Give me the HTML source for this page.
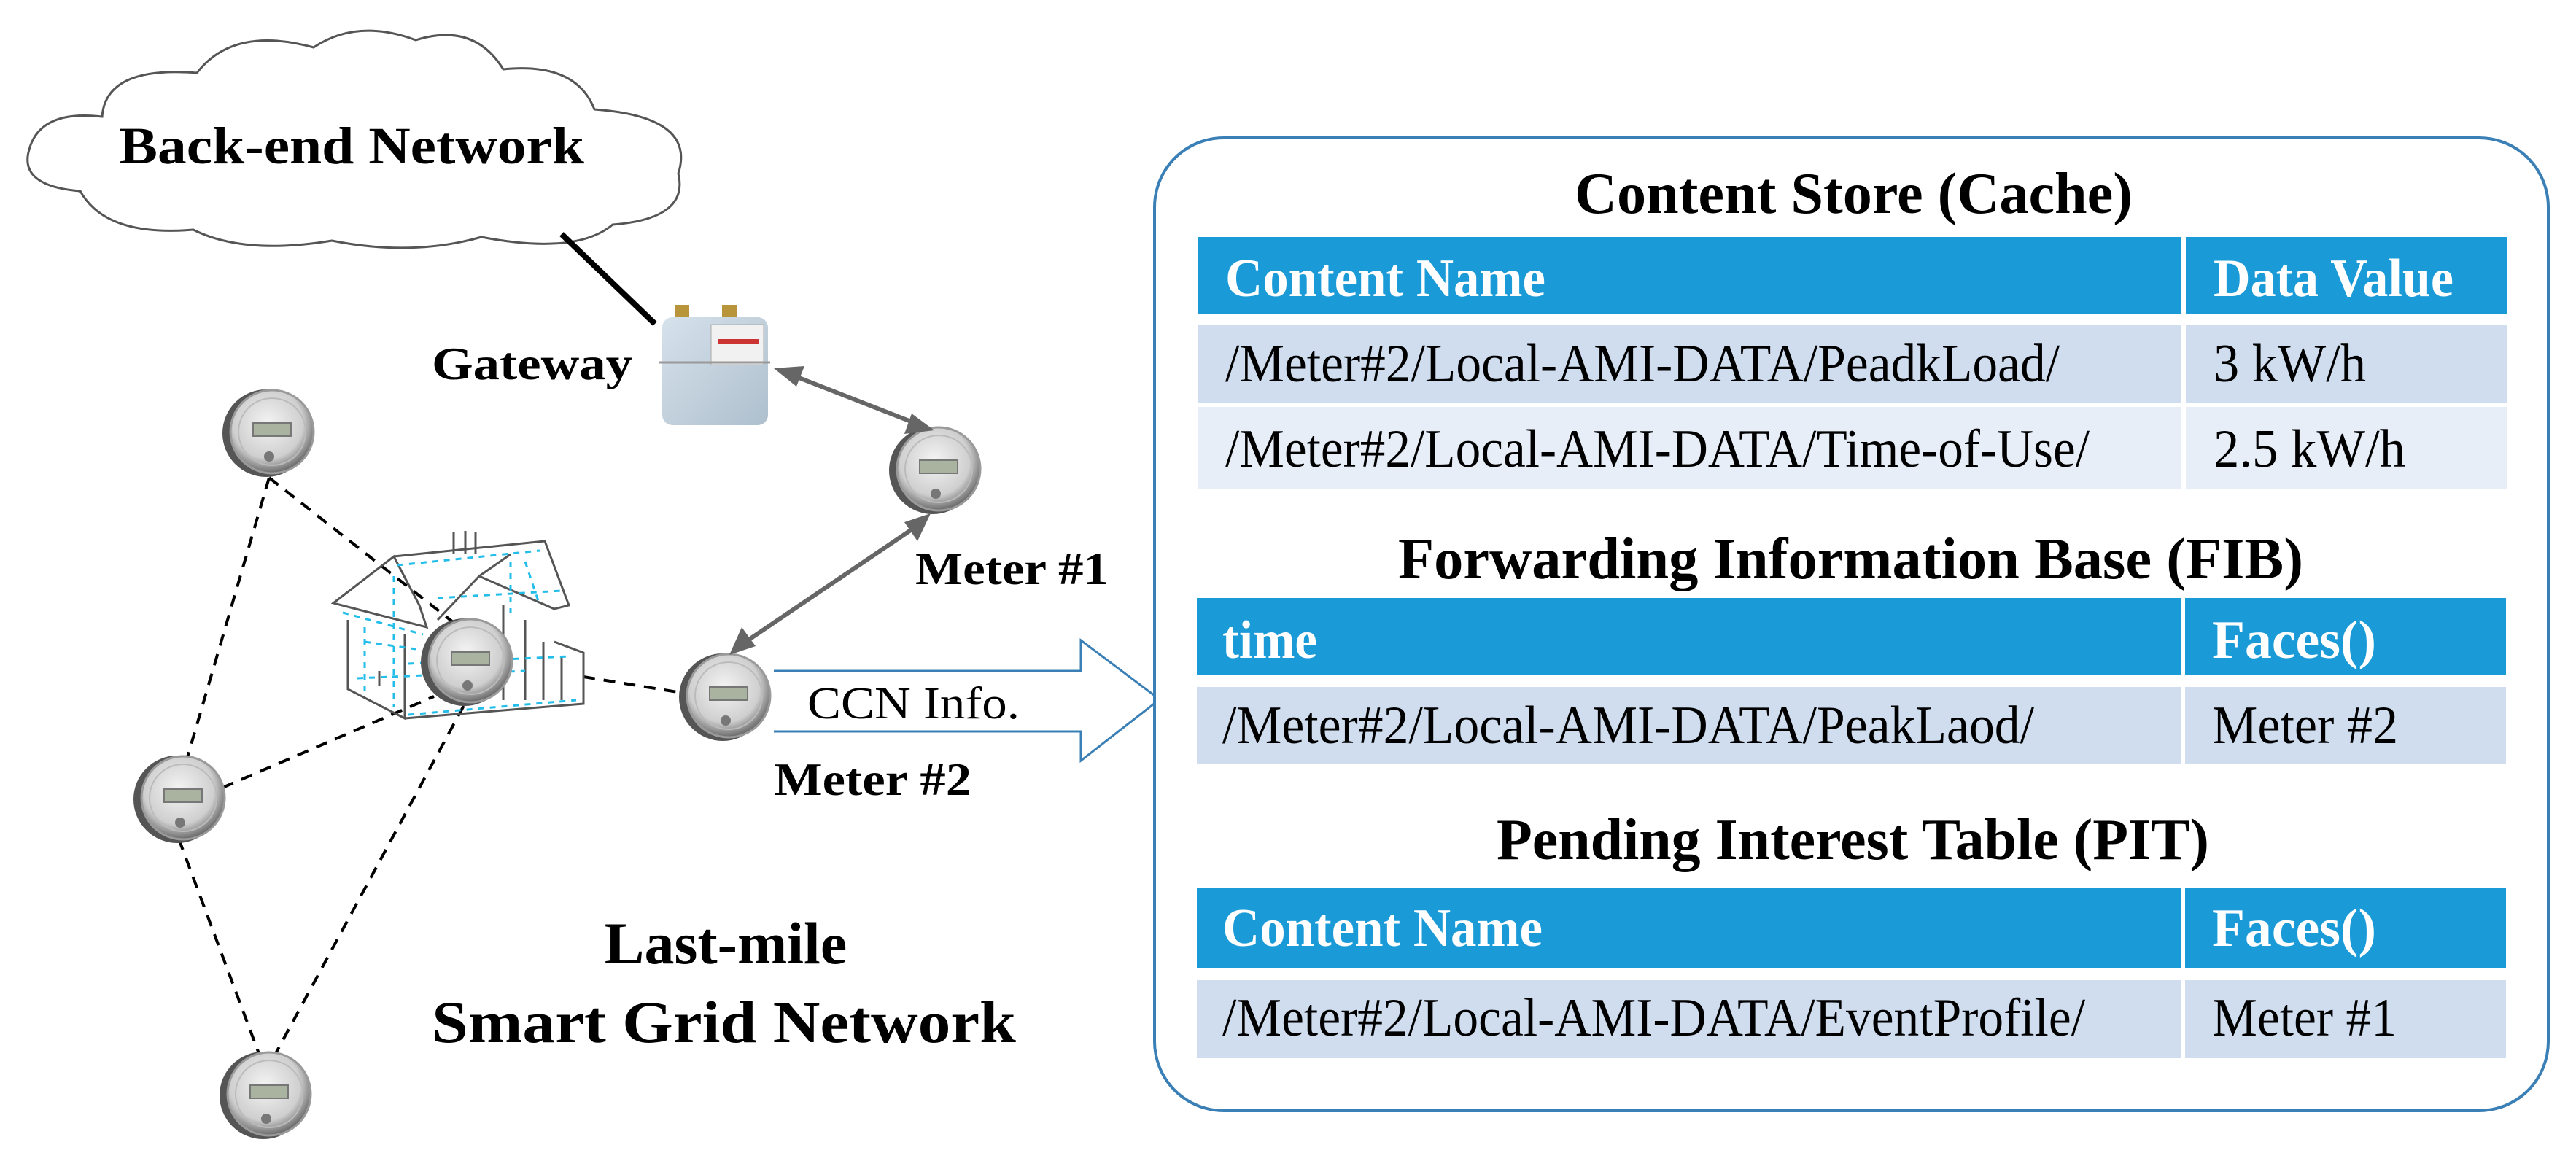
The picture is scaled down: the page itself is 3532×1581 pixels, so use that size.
<!DOCTYPE html>
<html><head><meta charset="utf-8"><style>
html,body{margin:0;padding:0;background:#fff;}
svg{display:block;}
text{font-family:"Liberation Serif",serif;}
</style></head><body>
<svg width="3532" height="1581" viewBox="0 0 3532 1581" xmlns="http://www.w3.org/2000/svg">
<defs>
<radialGradient id="mg" cx="0.45" cy="0.4" r="0.6">
<stop offset="0" stop-color="#f4f4f4"/><stop offset="0.7" stop-color="#cfcfcf"/><stop offset="1" stop-color="#6a6a6a"/>
</radialGradient>
<linearGradient id="gw" x1="0" y1="0" x2="1" y2="1">
<stop offset="0" stop-color="#d6e2ec"/><stop offset="1" stop-color="#aebfcd"/>
</linearGradient>
<g id="meter">
<circle cx="-4" cy="2" r="60" fill="#555"/>
<circle cx="4" cy="0" r="57" fill="url(#mg)" stroke="#9a9a9a" stroke-width="3"/>
<circle cx="4" cy="0" r="46" fill="none" stroke="#bbb" stroke-width="2"/>
<rect x="-22" y="-12" width="52" height="18" fill="#a9b3a0" stroke="#777" stroke-width="2"/>
<circle cx="0" cy="34" r="7" fill="#777"/>
</g>
</defs>

<!-- cloud -->
<path d="M110 262 Q25 255 40 205 Q55 150 140 160 Q145 90 270 100 Q320 35 430 65 Q490 25 570 55 Q650 30 690 95 Q790 85 815 150 Q955 160 930 238 Q945 300 840 308 Q790 350 660 325 Q565 352 455 330 Q335 350 265 315 Q145 325 110 262 Z" fill="#fff" stroke="#555" stroke-width="3"/>
<text x="163" y="224" font-size="72" font-weight="bold" textLength="638" lengthAdjust="spacingAndGlyphs">Back-end Network</text>
<line x1="770" y1="321" x2="898" y2="444" stroke="#000" stroke-width="8"/>

<!-- gateway -->
<rect x="925" y="418" width="20" height="22" fill="#b8943a"/><rect x="990" y="418" width="20" height="22" fill="#b8943a"/>
<rect x="908" y="435" width="145" height="148" rx="14" fill="url(#gw)"/>
<rect x="975" y="445" width="72" height="55" fill="#f1f1f1" stroke="#aaa"/>
<rect x="985" y="465" width="55" height="7" fill="#c33"/>
<line x1="903" y1="497" x2="1056" y2="497" stroke="#999" stroke-width="3"/>
<text x="592" y="520" font-size="64" font-weight="bold" textLength="275" lengthAdjust="spacingAndGlyphs">Gateway</text>

<!-- dashed lines -->
<g stroke="#000" stroke-width="4" stroke-dasharray="16,12" fill="none">
<line x1="369" y1="655" x2="255" y2="1045"/>
<line x1="369" y1="655" x2="630" y2="860"/>
<line x1="305" y1="1080" x2="595" y2="955"/>
<line x1="245" y1="1150" x2="357" y2="1450"/>
<line x1="375" y1="1450" x2="640" y2="960"/>
<line x1="800" y1="928" x2="935" y2="950"/>
</g>

<!-- house -->
<g fill="none" stroke-width="3">
<g stroke="#555">
<path d="M457 827 L540 763 L575 830 L585 860 L457 827 Z"/>
<path d="M540 763 L747 742 L780 830 L760 835 L657 790 L600 850"/>
<path d="M657 790 L700 760"/>
<path d="M477 850 L477 945 L555 985 L555 870 M555 985 L800 965 L800 895 L760 880 M690 830 L690 960 M720 850 L720 960 M745 880 L745 960 M770 900 L770 960"/>
<path d="M622 730 L622 760 M638 728 L638 760 M652 730 L652 760"/>
<path d="M590 880 L590 940 M520 920 L520 940"/>
</g>
<g stroke="#22bde8" stroke-dasharray="8,8">
<path d="M470 840 L580 870 M545 775 L740 755 M560 910 L780 900 M490 930 L720 920 M600 820 L770 810 M720 770 L740 830 M500 880 L570 890 M560 980 L790 960 M700 770 L700 840 M500 860 L500 950 M540 790 L540 970"/>
</g>
</g>

<!-- meters -->
<use href="#meter" transform="translate(369,592)"/>
<use href="#meter" transform="translate(641,906)"/>
<use href="#meter" transform="translate(247,1094)"/>
<use href="#meter" transform="translate(365,1500)"/>
<use href="#meter" transform="translate(1283,643)"/>
<use href="#meter" transform="translate(995,954)"/>

<!-- gray double arrows -->
<g stroke="#666" stroke-width="6" fill="#666">
<line x1="1080" y1="512" x2="1262" y2="583"/>
<line x1="1262" y1="718" x2="1015" y2="885"/>
</g>
<polygon points="1061,505 1103,502 1092,530" fill="#666"/>
<polygon points="1281,590 1240,595 1250,567" fill="#666"/>
<polygon points="1276,704 1258,742 1240,716" fill="#666"/>
<polygon points="1000,898 1017,860 1036,886" fill="#666"/>

<text x="1255" y="801" font-size="64" font-weight="bold" textLength="265" lengthAdjust="spacingAndGlyphs">Meter #1</text>
<text x="1061" y="1090" font-size="64" font-weight="bold" textLength="271" lengthAdjust="spacingAndGlyphs">Meter #2</text>

<!-- blue arrow -->
<path d="M1061 920 L1482 920 L1482 878 L1590 959 L1482 1043 L1482 1003 L1061 1003" fill="#fff" stroke="#3a7fb5" stroke-width="3"/>
<text x="1107" y="985" font-size="62" textLength="291" lengthAdjust="spacingAndGlyphs">CCN Info.</text>

<text x="995" y="1321" font-size="82" font-weight="bold" text-anchor="middle">Last-mile</text>
<text x="592" y="1429" font-size="82" font-weight="bold" textLength="801" lengthAdjust="spacingAndGlyphs">Smart Grid Network</text>

<!-- right box -->
<rect x="1583" y="189" width="1911" height="1334" rx="95" fill="#fff" stroke="#3a7fb5" stroke-width="4"/>

<g font-size="74">
<text x="2159" y="292" font-size="80" font-weight="bold" textLength="765" lengthAdjust="spacingAndGlyphs">Content Store (Cache)</text>
<rect x="1643" y="325" width="1348" height="106" fill="#1a9bd7"/>
<rect x="2997" y="325" width="440" height="106" fill="#1a9bd7"/>
<rect x="1643" y="446" width="1348" height="107" fill="#cfddef"/>
<rect x="2997" y="446" width="440" height="107" fill="#cfddef"/>
<rect x="1643" y="558" width="1348" height="113" fill="#e8eef8"/>
<rect x="2997" y="558" width="440" height="113" fill="#e8eef8"/>
<text x="1680" y="406" fill="#fff" font-weight="bold" textLength="439" lengthAdjust="spacingAndGlyphs">Content Name</text>
<text x="3035" y="406" fill="#fff" font-weight="bold" textLength="329" lengthAdjust="spacingAndGlyphs">Data Value</text>
<text x="1680" y="523" textLength="1144" lengthAdjust="spacingAndGlyphs">/Meter#2/Local-AMI-DATA/PeadkLoad/</text>
<text x="3035" y="523" textLength="209" lengthAdjust="spacingAndGlyphs">3 kW/h</text>
<text x="1680" y="640" textLength="1185" lengthAdjust="spacingAndGlyphs">/Meter#2/Local-AMI-DATA/Time-of-Use/</text>
<text x="3035" y="640" textLength="263" lengthAdjust="spacingAndGlyphs">2.5 kW/h</text>

<text x="1917" y="793" font-size="80" font-weight="bold" textLength="1241" lengthAdjust="spacingAndGlyphs">Forwarding Information Base (FIB)</text>
<rect x="1641" y="820" width="1349" height="106" fill="#1a9bd7"/>
<rect x="2996" y="820" width="440" height="106" fill="#1a9bd7"/>
<rect x="1641" y="942" width="1349" height="106" fill="#cfddef"/>
<rect x="2996" y="942" width="440" height="106" fill="#cfddef"/>
<text x="1676" y="902" fill="#fff" font-weight="bold" textLength="130" lengthAdjust="spacingAndGlyphs">time</text>
<text x="3033" y="902" fill="#fff" font-weight="bold" textLength="225" lengthAdjust="spacingAndGlyphs">Faces()</text>
<text x="1676" y="1019" textLength="1113" lengthAdjust="spacingAndGlyphs">/Meter#2/Local-AMI-DATA/PeakLaod/</text>
<text x="3033" y="1019" textLength="255" lengthAdjust="spacingAndGlyphs">Meter #2</text>

<text x="2052" y="1178" font-size="80" font-weight="bold" textLength="977" lengthAdjust="spacingAndGlyphs">Pending Interest Table (PIT)</text>
<rect x="1641" y="1217" width="1349" height="111" fill="#1a9bd7"/>
<rect x="2996" y="1217" width="440" height="111" fill="#1a9bd7"/>
<rect x="1641" y="1344" width="1349" height="107" fill="#cfddef"/>
<rect x="2996" y="1344" width="440" height="107" fill="#cfddef"/>
<text x="1676" y="1297" fill="#fff" font-weight="bold" textLength="439" lengthAdjust="spacingAndGlyphs">Content Name</text>
<text x="3033" y="1297" fill="#fff" font-weight="bold" textLength="225" lengthAdjust="spacingAndGlyphs">Faces()</text>
<text x="1676" y="1420" textLength="1183" lengthAdjust="spacingAndGlyphs">/Meter#2/Local-AMI-DATA/EventProfile/</text>
<text x="3033" y="1420" textLength="253" lengthAdjust="spacingAndGlyphs">Meter #1</text>
</g>
</svg>
</body></html>
